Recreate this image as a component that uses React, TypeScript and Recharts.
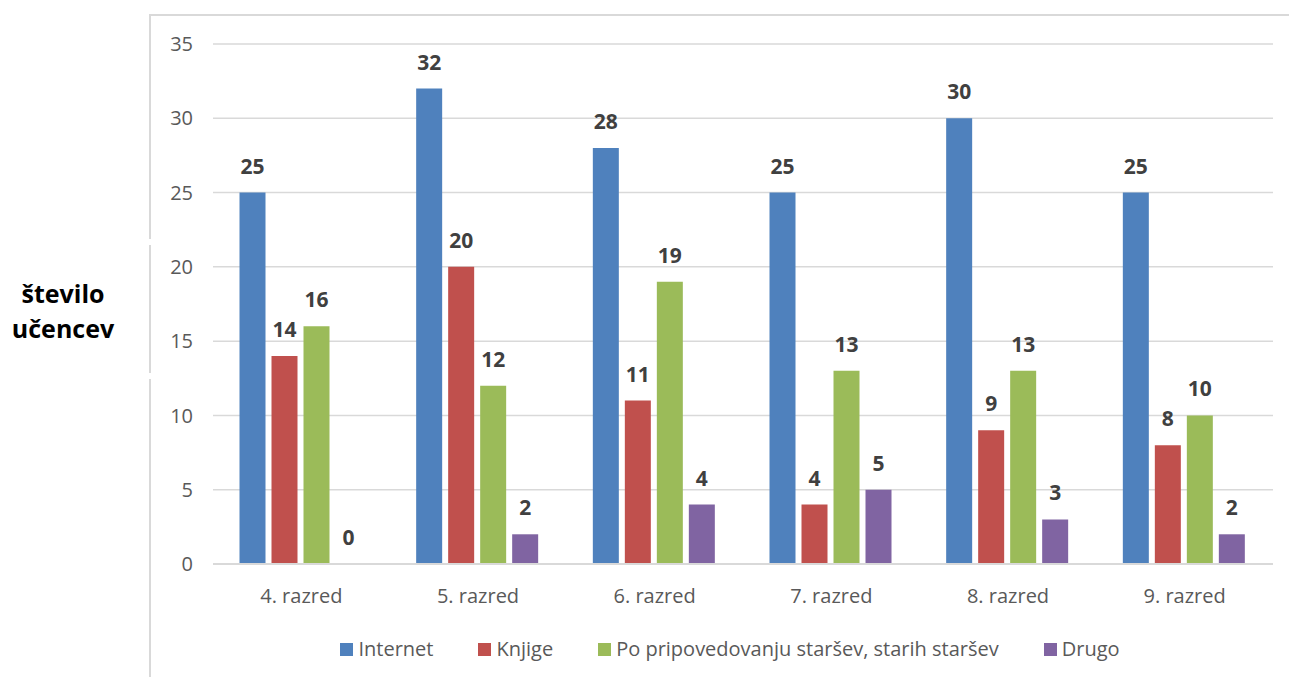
import { BarChart, Bar, XAxis, YAxis, CartesianGrid, LabelList } from 'recharts';

const RAZREDI = ['4. razred', '5. razred', '6. razred', '7. razred', '8. razred', '9. razred'];
const INTERNET = [25, 32, 28, 25, 30, 25];
const KNJIGE = [14, 20, 11, 4, 9, 8];
const STARSI = [16, 12, 19, 13, 13, 10];
const DRUGO = [0, 2, 4, 5, 3, 2];
const Y_TICKS = [0, 5, 10, 15, 20, 25, 30, 35];

const SERIES = [
  { key: 'internet', name: 'Internet', color: '#4f81bd' },
  { key: 'knjige', name: 'Knjige', color: '#c0504d' },
  { key: 'starsi', name: 'Po pripovedovanju staršev, starih staršev', color: '#9bbb59' },
  { key: 'drugo', name: 'Drugo', color: '#8064a2' },
];

const data = RAZREDI.map((razred, i) => ({
  razred,
  internet: INTERNET[i],
  knjige: KNJIGE[i],
  starsi: STARSI[i],
  drugo: DRUGO[i],
}));

const FONT = '"Open Sans", Lato, sans-serif';

// keep a hairline bar for zero values so their label still gets drawn
const zeroPoint = (v: number) => (v === 0 ? 0.01 : 0);

function LegendRow() {
  return (
    <div style={{ position: 'absolute', left: 200, top: 636, width: 1060, display: 'flex', justifyContent: 'center', gap: 45, fontFamily: FONT, fontSize: 20, lineHeight: '26px', color: '#595959' }}>
      {SERIES.map((s) => (
        <span key={s.key} style={{ display: 'flex', alignItems: 'center' }}>
          <span style={{ width: 13, height: 13, background: s.color, marginRight: 5, display: 'inline-block' }} />
          {s.name}
        </span>
      ))}
    </div>
  );
}

export default function App() {
  return (
    <div style={{ position: 'absolute', left: 0, top: 0, width: 1289, height: 677, background: '#fff', overflow: 'hidden' }}>
      <div style={{ position: 'absolute', left: 149, top: 14, width: 1140, height: 663, borderLeft: '2px solid #d9d9d9', borderTop: '2px solid #d9d9d9' }} />
      <div style={{ position: 'absolute', left: 146, top: 239, width: 8, height: 6, background: '#fff' }} />
      <div style={{ position: 'absolute', left: 146, top: 373, width: 8, height: 6, background: '#fff' }} />
      <div style={{ position: 'absolute', left: 0, top: 276, width: 126, textAlign: 'center', fontFamily: FONT, fontWeight: 700, fontSize: 25, lineHeight: '35px', color: '#000' }}>
        število<br />učencev
      </div>
      <div style={{ position: 'absolute', left: 0, top: 0 }}>
        <BarChart
          width={1289}
          height={677}
          data={data}
          margin={{ top: 44, right: 16, bottom: 63, left: 153 }}
          barCategoryGap="15%"
          barGap={6}
        >
          <CartesianGrid vertical={false} stroke="#d9d9d9" strokeWidth={1.5} />
          <XAxis
            dataKey="razred"
            height={50}
            tick={{ fill: '#595959', fontSize: 20, fontFamily: FONT }}
            tickLine={false}
            axisLine={{ stroke: '#d9d9d9', strokeWidth: 2 }}
            tickMargin={19}
          />
          <YAxis
            width={60}
            domain={[0, 35]}
            ticks={Y_TICKS}
            interval={0}
            tick={{ fill: '#595959', fontSize: 20, fontFamily: FONT }}
            tickLine={false}
            axisLine={false}
            tickMargin={14}
          />
          {SERIES.map((s) => (
            <Bar key={s.key} dataKey={s.key} name={s.name} fill={s.color} minPointSize={zeroPoint} isAnimationActive={false}>
              <LabelList
                dataKey={s.key}
                position="top"
                offset={19}
                fill="#404040"
                fontSize={21}
                fontWeight={700}
                fontFamily={FONT}
              />
            </Bar>
          ))}
        </BarChart>
      </div>
      <LegendRow />
    </div>
  );
}
